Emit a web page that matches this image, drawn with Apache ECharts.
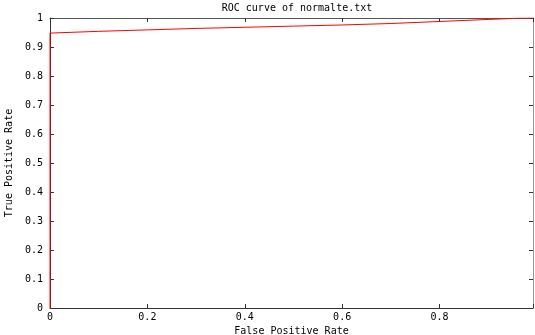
<!DOCTYPE html>
<html><head><meta charset="utf-8">
<script src="https://cdn.jsdelivr.net/npm/echarts@6/dist/echarts.min.js"></script>
<style>html,body{margin:0;padding:0;background:#fff}#c{width:535px;height:335px}</style>
</head><body><div id="c"></div>
<script>
var titleText = 'ROC curve of normalte.txt';
var xName = 'False Positive Rate';
var yName = 'True Positive Rate';
var fpr = [0, 0, 0.1, 0.2, 0.3, 0.4, 0.5, 0.6, 0.7, 0.8, 0.9, 0.97, 0.992];
var tpr = [0, 0.948, 0.954, 0.959, 0.964, 0.968, 0.972, 0.976, 0.981, 0.988, 0.995, 1.0, 1.0];
var xTicks = [0, 0.2, 0.4, 0.6, 0.8];
var yTicks = [0, 0.1, 0.2, 0.3, 0.4, 0.5, 0.6, 0.7, 0.8, 0.9, 1];
var xMax = 0.992;

var font = 'DejaVu Sans Mono';
var chart = echarts.init(document.getElementById('c'), null, {renderer: 'canvas'});
function isTick(list, v) { return list.some(function (t) { return Math.abs(t - v) < 1e-9; }); }
var data = fpr.map(function (x, i) { return [x, tpr[i]]; });
chart.setOption({
  animation: false,
  backgroundColor: '#fff',
  title: { text: titleText, left: 292, top: -2, textAlign: 'center',
    textStyle: { fontFamily: font, fontSize: 10, fontWeight: 'normal', color: '#000' } },
  grid: { left: 50, right: 2, top: 18, bottom: 27, containLabel: false, outerBoundsMode: 'none' },
  xAxis: [{
    type: 'value', min: 0, max: xMax, interval: 0.2, position: 'bottom',
    name: xName, nameLocation: 'middle', nameGap: 11,
    nameTextStyle: { fontFamily: font, fontSize: 10, color: '#000' },
    axisLine: { onZero: false, lineStyle: { color: '#333', width: 1 } },
    axisTick: { inside: true, length: 4, lineStyle: { color: '#333' } },
    axisLabel: { fontFamily: font, fontSize: 10, color: '#000', margin: 4,
      formatter: function (v) { return isTick(xTicks, v) ? String(v) : ''; } },
    splitLine: { show: false }
  }, {
    type: 'value', min: 0, max: xMax, interval: 0.2, position: 'top',
    axisLine: { show: true, onZero: false, lineStyle: { color: '#555', width: 1 } },
    axisTick: { show: true, inside: true, length: 4, lineStyle: { color: '#333' } },
    axisLabel: { show: false }, splitLine: { show: false }
  }],
  yAxis: [{
    type: 'value', min: 0, max: 1, interval: 0.1, position: 'left',
    name: yName, nameLocation: 'middle', nameGap: 36, nameRotate: 90,
    nameTextStyle: { fontFamily: font, fontSize: 10, color: '#000' },
    axisLine: { onZero: false, lineStyle: { color: '#333', width: 1 } },
    axisTick: { inside: true, length: 4, lineStyle: { color: '#333' } },
    axisLabel: { fontFamily: font, fontSize: 10, color: '#000', margin: 7,
      formatter: function (v) { return isTick(yTicks, v) ? String(Math.round(v * 10) / 10) : ''; } },
    splitLine: { show: false }
  }, {
    type: 'value', min: 0, max: 1, interval: 0.1, position: 'right',
    axisLine: { show: true, onZero: false, lineStyle: { color: '#999', width: 1 } },
    axisTick: { show: true, inside: true, length: 4, lineStyle: { color: '#333' } },
    axisLabel: { show: false }, splitLine: { show: false }
  }],
  series: [{
    type: 'line', data: data, xAxisIndex: 0, yAxisIndex: 0,
    showSymbol: false, symbol: 'none',
    lineStyle: { color: '#ff0000', width: 1 }, z: 10
  }]
});
</script></body></html>
